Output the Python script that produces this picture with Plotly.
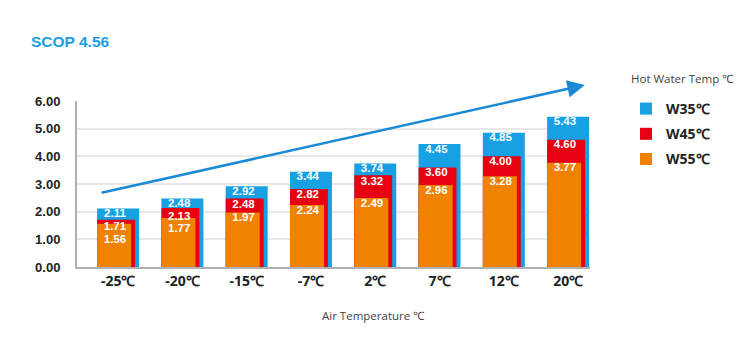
import plotly.graph_objects as go
import numpy as np

categories = ["-25℃", "-20℃", "-15℃", "-7℃", "2℃", "7℃", "12℃", "20℃"]
w35 = [2.11, 2.48, 2.92, 3.44, 3.74, 4.45, 4.85, 5.43]
w45 = [1.71, 2.13, 2.48, 2.82, 3.32, 3.60, 4.00, 4.60]
w55 = [1.56, 1.77, 1.97, 2.24, 2.49, 2.96, 3.28, 3.77]
series_names = ["W35℃", "W45℃", "W55℃"]
title_text = "SCOP 4.56"
legend_title = "Hot Water Temp ℃"
x_title = "Air Temperature ℃"
y_ticks = [0, 1, 2, 3, 4, 5, 6]

BLUE = "#17a0e4"
RED = "#e60012"
ORANGE = "#f08200"
LBL_FONT = "Liberation Sans"
CAT_FONT = "Open Sans"

idx = np.arange(len(categories))
fig = go.Figure()

bar_offset = -0.327
widths = [0.653, 0.59, 0.53]
colors = [BLUE, RED, ORANGE]
for name, vals, col, w in zip(series_names, [w35, w45, w55], colors, widths):
    fig.add_trace(go.Bar(
        x=idx, y=vals, name=name, marker=dict(color=col, line=dict(width=0)),
        width=w, offset=bar_offset, legendgroup=name, hoverinfo="skip",
    ))

# value labels, pushed down where they would collide
gap = 0.46
yb = np.array(w35)
yr = np.minimum(np.array(w45), yb - gap)
yo = np.minimum(np.array(w55), yr - gap)
for vals, ys in zip([w35, w45, w55], [yb, yr, yo]):
    fig.add_trace(go.Scatter(
        x=idx - 0.05, y=ys, mode="text", text=[f"{v:.2f}" for v in vals],
        textposition="bottom center", showlegend=False, hoverinfo="skip",
        textfont=dict(family=LBL_FONT, size=11.5, color="white", weight="bold"),
        cliponaxis=False,
    ))

fig.update_layout(
    width=750, height=350, autosize=False,
    margin=dict(l=77, r=160, t=101, b=83),
    paper_bgcolor="white", plot_bgcolor="white",
    barmode="overlay",
    title=dict(text=title_text, x=31/750, xref="container", xanchor="left",
               y=1 - 42/350, yref="container", yanchor="middle",
               font=dict(family=LBL_FONT, size=15.5, color=BLUE, weight="bold")),
    showlegend=True,
    legend=dict(x=(626-77)/513, xanchor="left", y=(267-93)/166, yanchor="top",
                font=dict(family=CAT_FONT, size=14, color="#222", weight="bold"),
                tracegroupgap=4, bgcolor="rgba(0,0,0,0)"),
    xaxis=dict(range=[-0.64, 7.34], tickvals=idx, ticktext=categories,
               showgrid=False, zeroline=False, showline=True, linecolor="#b0b0b0",
               linewidth=2, ticks="", fixedrange=True,
               tickfont=dict(family=CAT_FONT, size=14, color="#222", weight="bold")),
    yaxis=dict(range=[0, 6], tickvals=y_ticks, tickformat=".2f",
               showgrid=True, gridcolor="#e8e8e8", gridwidth=2,
               zeroline=False, showline=True, linecolor="#b0b0b0", linewidth=2,
               ticks="outside", ticklen=12, tickcolor="rgba(0,0,0,0)",
               tickfont=dict(family=LBL_FONT, size=13, color="#222", weight="bold")),
)

fig.add_annotation(text=legend_title, xref="paper", yref="paper",
                   x=(629-77)/513, y=(267-78)/166, showarrow=False,
                   xanchor="left", yanchor="middle",
                   font=dict(family=CAT_FONT, size=11.5, color="#444", weight="normal"))

fig.add_annotation(text=x_title, xref="paper", yref="paper",
                   x=(373-77)/513, y=(267-315)/166, showarrow=False,
                   xanchor="center", yanchor="middle",
                   font=dict(family=CAT_FONT, size=11.5, color="#444"))

# trend arrow
fig.add_annotation(x=7.26, y=6.58, ax=-0.28, ay=2.67, xref="x", yref="y",
                   axref="x", ayref="y", text="", showarrow=True,
                   arrowhead=2, arrowsize=1.4, arrowwidth=2.5, arrowcolor="#1a8ad6")

fig.write_html("out.html")
